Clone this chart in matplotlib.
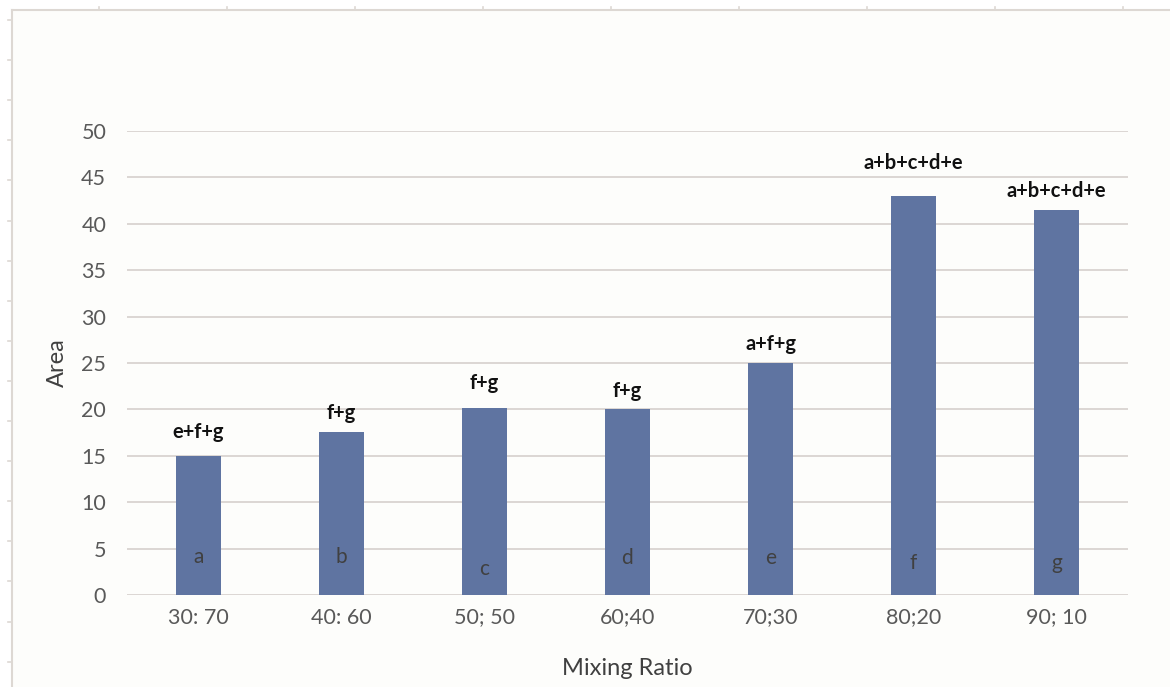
import matplotlib
matplotlib.use("Agg")
import matplotlib.pyplot as plt
from matplotlib.lines import Line2D

categories = ["30: 70", "40: 60", "50; 50", "60;40", "70;30", "80;20", "90; 10"]
areas = [15.0, 17.6, 20.2, 20.0, 25.0, 43.0, 41.5]
inner_labels = ["a", "b", "c", "d", "e", "f", "g"]
inner_label_y = [4.1, 4.1, 2.8, 4.0, 4.0, 3.4, 3.5]
top_labels = ["e+f+g", "f+g", "f+g", "f+g", "a+f+g", "a+b+c+d+e", "a+b+c+d+e"]
top_label_gap = [2.6, 2.0, 2.6, 2.0, 2.1, 3.6, 2.0]
yticks = [0, 5, 10, 15, 20, 25, 30, 35, 40, 45, 50]

plt.rcParams['font.family'] = ['Lato', 'DejaVu Sans']

W, H = 1170, 687
fig = plt.figure(figsize=(W / 100, H / 100), dpi=100)
fig.patch.set_facecolor("white")

# spreadsheet-like frame
frame_bg = plt.Rectangle((12 / W, 0), 1 - 12 / W, 1 - 10 / H, transform=fig.transFigure,
                         facecolor="#fdfdfb", edgecolor="none", zorder=-5)
fig.add_artist(frame_bg)
fc = "#ddd8d3"
fig.add_artist(Line2D([12 / W, 1], [1 - 10 / H, 1 - 10 / H], color=fc, lw=1.5, transform=fig.transFigure, zorder=-4))
fig.add_artist(Line2D([12 / W, 12 / W], [0, 1 - 10 / H], color=fc, lw=1.5, transform=fig.transFigure, zorder=-4))
for k in range(9):
    x = (99 + 128 * k) / W
    fig.add_artist(Line2D([x, x], [1 - 10 / H, 1 - 7 / H], color=fc, lw=1.2, transform=fig.transFigure, zorder=-4))
for k in range(17):
    y = 1 - (20 + 40.1 * k) / H
    fig.add_artist(Line2D([8 / W, 12 / W], [y, y], color=fc, lw=1.2, transform=fig.transFigure, zorder=-4))

ax = fig.add_axes([127 / W, 1 - 595 / H, (1128 - 127) / W, (595 - 131) / H])
ax.set_facecolor("none")
x = list(range(len(categories)))
ax.bar(x, areas, width=0.31, color="#5f74a1", zorder=3)
ax.set_xlim(-0.5, len(categories) - 0.5)
ax.set_ylim(0, 50)
ax.set_yticks(yticks)
ax.set_xticks(x)
ax.set_xticklabels(categories)
ax.yaxis.grid(True, color="#d9d4d0", lw=1.3, zorder=0)
ax.set_axisbelow(True)
for s in ax.spines.values():
    s.set_visible(False)
ax.tick_params(axis="both", length=0, labelsize=15.5, labelcolor="#595959")
ax.tick_params(axis="y", pad=15)
ax.tick_params(axis="x", pad=9)

for xi, v, lab, ly, tl, gap in zip(x, areas, inner_labels, inner_label_y, top_labels, top_label_gap):
    ax.text(xi, ly, lab, ha="center", va="center", fontsize=15, color="#404040", zorder=4)
    ax.text(xi, v + gap, tl, ha="center", va="center", fontsize=14.5, color="#111111",
            fontweight="bold", zorder=4)

ax.set_ylabel("Area", fontsize=17, color="#404040", va="center")
ax.set_xlabel("Mixing Ratio", fontsize=17, color="#404040", va="center")
ax.yaxis.set_label_coords(-0.07, 0.5)
ax.xaxis.set_label_coords(0.5, -0.159)

fig.savefig("out.png", dpi=100, facecolor=fig.get_facecolor())
